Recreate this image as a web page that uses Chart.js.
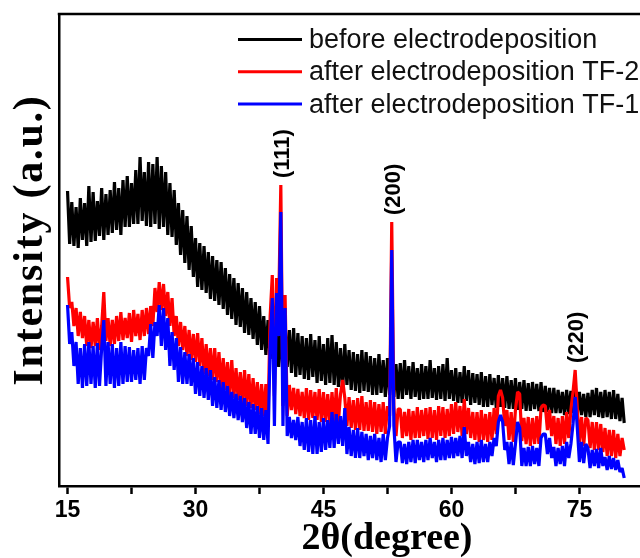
<!DOCTYPE html>
<html>
<head>
<meta charset="utf-8">
<script src="https://cdn.jsdelivr.net/npm/chart.js@4.4.1/dist/chart.umd.min.js"></script>
<style>
html,body{margin:0;padding:0;background:#fff;}
#wrap{width:640px;height:558px;position:relative;}
</style>
</head>
<body>
<div id="wrap"><canvas id="c" width="640" height="558"></canvas></div>
<script>
// 2-theta sampling positions (degree)
const angles = [
15,15.25,15.5,15.75,16,16.25,16.5,16.75,17,17.25,17.5,17.75,18,18.25,18.5,18.75,19,19.25,19.5,19.75,
20,20.25,20.5,20.75,21,21.25,21.5,21.75,22,22.25,22.5,22.75,23,23.25,23.5,23.75,24,24.25,24.5,24.75,
25,25.25,25.5,25.75,26,26.25,26.5,26.75,27,27.25,27.5,27.75,28,28.25,28.5,28.75,29,29.25,29.5,29.75,
30,30.25,30.5,30.75,31,31.25,31.5,31.75,32,32.25,32.5,32.75,33,33.25,33.5,33.75,34,34.25,34.5,34.75,
35,35.25,35.5,35.75,36,36.25,36.5,36.75,37,37.25,37.5,37.75,38,38.25,38.5,38.75,39,39.25,39.5,39.75,
40,40.25,40.5,40.75,41,41.25,41.5,41.75,42,42.25,42.5,42.75,43,43.25,43.5,43.75,44,44.25,44.5,44.75,
45,45.25,45.5,45.75,46,46.25,46.5,46.75,47,47.25,47.5,47.75,48,48.25,48.5,48.75,49,49.25,49.5,49.75,
50,50.25,50.5,50.75,51,51.25,51.5,51.75,52,52.25,52.5,52.75,53,53.25,53.5,53.75,54,54.25,54.5,54.75,
55,55.25,55.5,55.75,56,56.25,56.5,56.75,57,57.25,57.5,57.75,58,58.25,58.5,58.75,59,59.25,59.5,59.75,
60,60.25,60.5,60.75,61,61.25,61.5,61.75,62,62.25,62.5,62.75,63,63.25,63.5,63.75,64,64.25,64.5,64.75,
65,65.25,65.5,65.75,66,66.25,66.5,66.75,67,67.25,67.5,67.75,68,68.25,68.5,68.75,69,69.25,69.5,69.75,
70,70.25,70.5,70.75,71,71.25,71.5,71.75,72,72.25,72.5,72.75,73,73.25,73.5,73.75,74,74.25,74.5,74.75,
75,75.25,75.5,75.75,76,76.25,76.5,76.75,77,77.25,77.5,77.75,78,78.25,78.5,78.75,79,79.25,79.5,79.75,
80,80.25
];

// before electrodeposition (black)
const beforeED = [
295,242,284,240, 279,238,288,246, 283,240,300,244, 294,245,285,250, 298,246,292,251,
296,253,304,256, 298,251,306,259, 310,259,303,262, 316,262,329,265, 314,260,324,259,
322,262,329,257, 320,259,314,251, 303,249,296,241, 283,231,276,223, 270,216,260,209,
248,199,243,196, 240,193,234,187, 230,185,226,181, 224,177,218,171, 212,167,208,161,
203,159,198,153, 194,151,188,147, 184,141,180,136, 170,131,166,127, 164,123,160,119,
158,115,162,119, 156,113,158,109, 153,111,150,107, 148,106,152,109, 146,103,150,105,
142,101,148,103, 151,101,144,99, 138,97,142,101, 136,96,134,95, 132,93,136,95,
134,94,130,91, 128,91,132,93, 126,89,128,91, 124,89,122,87, 123,87,126,91,
120,87,124,89, 118,86,122,87, 120,87,126,88, 118,86,120,87, 122,85,128,87,
116,85,118,83, 114,83,120,85, 116,81,113,83, 112,81,114,79, 110,79,112,81,
108,78,111,79, 108,78,110,77, 106,77,108,76, 104,77,106,75, 103,75,104,77,
102,75,104,74, 100,74,98,73, 98,73,96,73, 94,71,96,72, 95,73,102,71,
94,71,92,69, 93,69,96,71, 98,69,94,68, 96,69,94,67, 96,67,92,65,
88,63
];

// after electrodeposition TF-2 (red)
const afterTF2 = [
209,178,184,160, 178,150,174,148, 170,140,166,138, 164,140,168,136, 160,194,145,168,
140,166,142,170, 145,174,146,168, 148,173,144,176, 150,172,146,176, 150,178,152,180,
160,198,174,204, 176,202,170,194, 160,188,150,170, 140,164,136,160, 130,156,126,152,
124,153,120,148, 112,142,110,138, 106,138,104,134, 98,128,96,124, 90,126,88,118,
86,114,82,116, 80,112,78,108, 76,104,72,102, 70,102,66,170, 211,90,208,180,
301,80,191,70, 101,76,98,72, 97,70,94,68, 98,66,96,68, 94,66,97,64,
94,64,92,62, 94,62,98,64, 92,106,88,60, 89,58,86,56, 88,56,90,55,
84,55,86,54, 84,52,82,54, 84,52,80,70, 264,80,50,77, 77,48,74,50,
77,46,75,48, 79,48,76,50, 78,47,79,48, 76,46,80,50, 79,48,77,50,
82,52,84,54, 80,50,87,52, 78,48,74,46, 74,44,76,46, 72,44,74,46,
78,52,90,96, 88,60,76,46, 74,44,76,94, 92,45,68,42, 69,40,68,42,
70,42,78,81, 80,56,76,50, 70,42,68,40, 70,42,74,48, 76,94,116,78,
44,69,40,68, 66,38,64,36, 64,36,62,34, 58,30,56,30, 56,28,52,30,
48,36
];

// after electrodeposition TF-1 (blue)
const afterTF1 = [
181,142,154,120, 144,102,138,98, 142,100,144,102, 140,98,143,100, 138,166,100,144,
102,142,98,138, 100,144,102,140, 104,139,104,136, 106,138,102,140, 106,138,130,162,
128,164,150,181, 140,178,136,168, 120,154,116,148, 104,139,102,134, 102,132,100,128,
92,124,90,120, 88,118,86,116, 80,109,78,106, 76,104,74,100, 70,94,68,92,
66,90,64,88, 58,84,52,82, 52,80,48,78, 46,76,42,140, 188,60,193,150,
274,60,178,50, 69,48,66,46, 69,40,64,36, 68,34,66,32, 70,32,64,34,
68,36,66,38, 74,38,72,42, 70,40,78,32, 59,30,56,28, 58,28,54,30,
52,26,50,28, 52,26,48,24, 52,26,48,60, 236,60,24,44, 44,23,42,22,
44,24,46,23, 46,26,44,24, 46,26,48,28, 44,24,46,26, 48,26,46,28,
49,28,48,30, 50,28,59,30, 44,24,42,22, 44,23,46,24, 42,24,44,30,
48,40,64,71, 64,36,44,22, 44,21,42,64, 58,20,38,20, 39,20,40,22,
38,20,48,52, 52,32,48,28, 39,20,38,22, 40,20,44,28, 42,62,89,58,
24,44,23,42, 38,18,36,20, 37,18,38,20, 29,16,30,17, 28,16,26,14,
18,8
];

const seriesNames = ['before electrodeposition', 'after electrodeposition TF-2', 'after electrodeposition TF-1'];
const seriesColors = ['#000000', '#ff0000', '#0000ff'];
const xTickValues = [15, 22.5, 30, 37.5, 45, 52.5, 60, 67.5, 75];
const peakLabels = ['(111)', '(200)', '(220)'];
const peakAngles = [40, 53, 74.5];
const xTitle = '2θ(degree)';
const yTitle = 'Intensity (a.u.)';

const seriesValues = [beforeED, afterTF2, afterTF1];
const toPoints = vals => angles.map((a, i) => ({x: a, y: vals[i]}));

const decor = {
  id: 'decor',
  afterDraw(chart) {
    const ctx = chart.ctx;
    const ca = chart.chartArea;
    ctx.save();
    // top frame line
    ctx.strokeStyle = '#000';
    ctx.lineWidth = 2.5;
    ctx.beginPath();
    ctx.moveTo(ca.left - 1.25, ca.top);
    ctx.lineTo(ca.right, ca.top);
    ctx.stroke();
    // legend
    ctx.font = '27px "Liberation Sans", Arial, sans-serif';
    ctx.textBaseline = 'middle';
    ctx.textAlign = 'left';
    chart.data.datasets.forEach((ds, i) => {
      const y = 39.5 + i * 32.3;
      ctx.strokeStyle = ds.borderColor;
      ctx.lineWidth = 3;
      ctx.beginPath();
      ctx.moveTo(238, y);
      ctx.lineTo(302, y);
      ctx.stroke();
      ctx.fillStyle = '#111';
      ctx.fillText(ds.label, 309, y + 1);
    });
    // peak labels
    const xs = chart.scales.x, ys = chart.scales.y;
    ctx.fillStyle = '#000';
    ctx.font = 'bold 22px "Liberation Sans", Arial, sans-serif';
    peakLabels.forEach((t, k) => {
      const idx = angles.indexOf(peakAngles[k]);
      const top = Math.max(afterTF2[idx], afterTF1[idx], beforeED[idx]);
      const px = xs.getPixelForValue(peakAngles[k]) + 2;
      const py = ys.getPixelForValue(top) - 7;
      ctx.save();
      ctx.translate(px, py);
      ctx.rotate(-Math.PI / 2);
      ctx.textAlign = 'left';
      ctx.textBaseline = 'middle';
      ctx.fillText(t, 0, 0);
      ctx.restore();
    });
    // axis titles
    ctx.fillStyle = '#000';
    ctx.font = 'bold 38px "Liberation Serif", "Times New Roman", serif';
    ctx.textAlign = 'center';
    ctx.textBaseline = 'alphabetic';
    ctx.fillText(xTitle, 387, 549);
    ctx.save();
    ctx.translate(42, 240);
    ctx.rotate(-Math.PI / 2);
    ctx.font = 'bold 42px "Liberation Serif", "Times New Roman", serif';
    try { ctx.letterSpacing = '1.8px'; } catch (e) {}
    ctx.textAlign = 'center';
    ctx.textBaseline = 'alphabetic';
    ctx.fillText(yTitle, 0, 0);
    ctx.restore();
    ctx.restore();
  }
};

new Chart(document.getElementById('c'), {
  type: 'line',
  data: {
    datasets: seriesValues.map((vals, i) => ({
      label: seriesNames[i],
      data: toPoints(vals),
      borderColor: seriesColors[i],
      backgroundColor: seriesColors[i],
      borderWidth: 3.2,
      borderJoinStyle: 'bevel',
      pointRadius: 0,
      tension: 0,
      fill: false,
      order: 3 - i
    }))
  },
  options: {
    responsive: false,
    animation: false,
    devicePixelRatio: 1,
    layout: {padding: {top: 14, left: 0, right: 0, bottom: 0}},
    plugins: {legend: {display: false}, tooltip: {enabled: false}},
    scales: {
      x: {
        type: 'linear',
        min: 14.0,
        max: 82.1,
        afterBuildTicks: s => { s.ticks = xTickValues.map(v => ({value: v})); },
        afterFit: s => { s.height = 72; },
        ticks: {
          autoSkip: false,
          maxRotation: 0,
          padding: 3,
          color: '#000',
          font: {family: '"Liberation Sans", Arial, sans-serif', size: 23, weight: 'bold'},
          callback: v => (v % 15 === 0 ? String(v) : '')
        },
        grid: {drawOnChartArea: false, drawTicks: true, tickLength: 8, tickWidth: 2.5, tickColor: '#000'},
        border: {display: true, color: '#000', width: 2.5},
        title: {display: false}
      },
      y: {
        min: 0,
        max: 472,
        afterFit: s => { s.width = 59; },
        ticks: {display: false},
        grid: {drawOnChartArea: false, drawTicks: false},
        border: {display: true, color: '#000', width: 2.5},
        title: {display: false}
      }
    }
  },
  plugins: [decor]
});
</script>
</body>
</html>
